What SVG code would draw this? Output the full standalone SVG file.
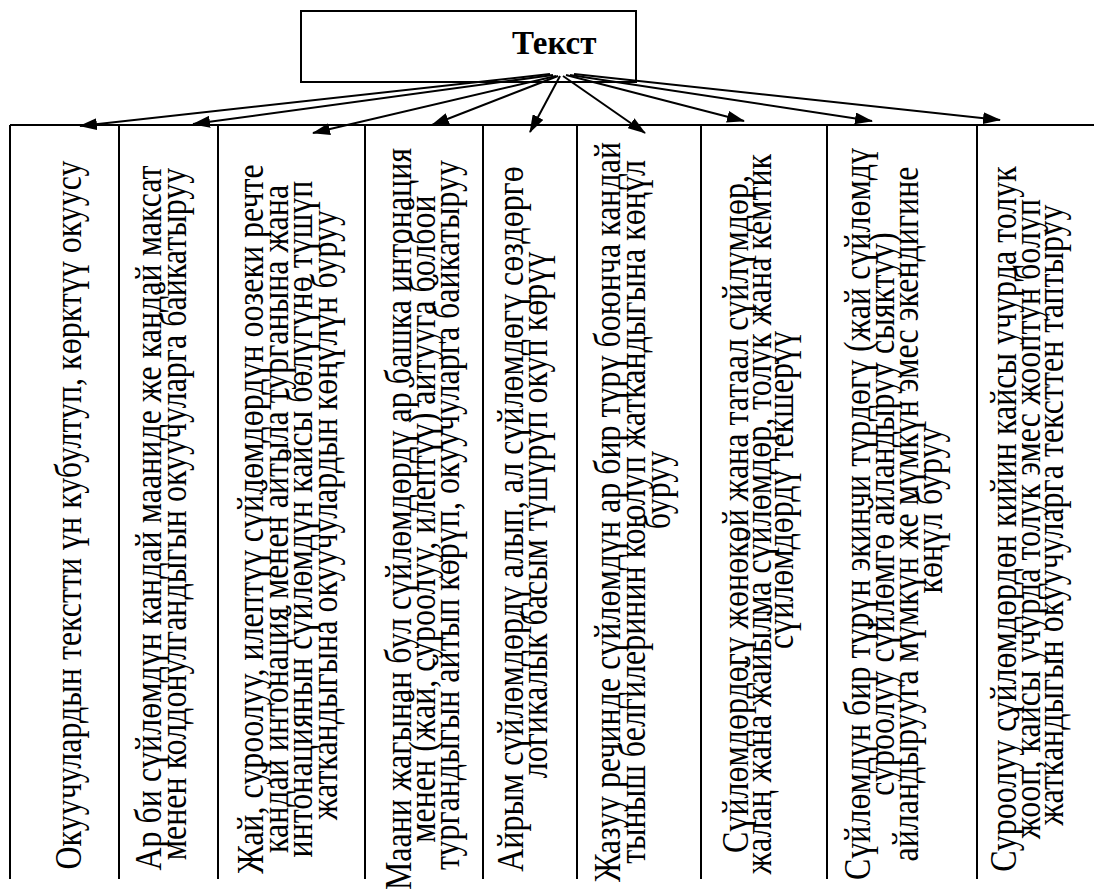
<svg xmlns="http://www.w3.org/2000/svg" width="1094" height="894" viewBox="0 0 1094 894">
  <defs>
    <style>
      .frame { fill: none; stroke: #000; stroke-width: 2; }
      .title { font-family: "Liberation Serif", "Times New Roman", serif; font-size: 33px; font-weight: bold; fill: #000; }
      .cell { font-family: "Liberation Serif", "Times New Roman", serif; font-size: 32px; fill: #000; text-anchor: middle; }
      .conn line { stroke: #000; stroke-width: 2; marker-end: url(#ah); }
    </style>
    <marker id="ah" markerUnits="userSpaceOnUse" markerWidth="19" markerHeight="12" refX="17" refY="6" orient="auto">
      <path d="M0,0 L18,6 L0,12 Z" fill="#000"/>
    </marker>
  </defs>
  <rect width="1094" height="894" fill="#fff"/>

  <!-- root node -->
  <g id="node-root">
    <rect class="frame" x="301" y="11" width="335" height="71"/>
    <text class="title" x="512" y="54">Текст</text>
  </g>

  <!-- table header rule and column borders -->
  <g id="table-frame" class="frame">
    <line x1="10" y1="125" x2="1094" y2="125"/>
    <line x1="10" y1="125" x2="10" y2="879"/>
    <line x1="119" y1="125" x2="119" y2="879"/>
    <line x1="218" y1="125" x2="218" y2="879"/>
    <line x1="365" y1="125" x2="365" y2="879"/>
    <line x1="483" y1="125" x2="483" y2="879"/>
    <line x1="577" y1="125" x2="577" y2="879"/>
    <line x1="701" y1="125" x2="701" y2="879"/>
    <line x1="827" y1="125" x2="827" y2="879"/>
    <line x1="977" y1="125" x2="977" y2="879"/>
  </g>

  <!-- columns: text set vertically, reading bottom to top; glyphs drawn 1.2x tall -->
  <g id="col-1">
    <text class="cell" transform="translate(81,515) rotate(-90) scale(1,1.2)">Окуучулардын текстти үн кубултуп,  көрктүү окуусу</text>
  </g>
  <g id="col-2">
    <text class="cell" transform="translate(161,514) rotate(-90) scale(1,1.2)">
      <tspan x="0" y="0">Ар би сүйлөмдүн кандай мааниде же кандай максат</tspan>
      <tspan x="0" y="20.8">менен колдонулгандыгын окуучуларга байкатыруу</tspan>
    </text>
  </g>
  <g id="col-3">
    <text class="cell" transform="translate(263,515) rotate(-90) scale(1,1.2)">
      <tspan x="0" y="0">Жай, суроолуу, илептүү сүйлөмдөрдүн оозеки речте</tspan>
      <tspan x="0" y="20.6">кандай интонация менен айтыла турганына жана</tspan>
      <tspan x="0" y="41.2">интонациянын сүйлөмдүн кайсы бөлүгүнө түшүп</tspan>
      <tspan x="0" y="61.8">жаткандыгына окуучулардын көңүлүн буруу</tspan>
    </text>
  </g>
  <g id="col-4">
    <text class="cell" transform="translate(411,515) rotate(-90) scale(1,1.2)">
      <tspan x="0" y="0">Маани жагынан бул сүйлөмдөрдү ар башка интонация</tspan>
      <tspan x="0" y="20">менен (жай, суроолуу, илептүү) айтууга болбой</tspan>
      <tspan x="0" y="40">тургандыгын айтып көрүп, окуучуларга байкатыруу</tspan>
    </text>
  </g>
  <g id="col-5">
    <text class="cell" transform="translate(523,515) rotate(-90) scale(1,1.2)">
      <tspan x="0" y="0">Айрым сүйлөмдөрдү алып, ал сүйлөмдөгү сөздөргө</tspan>
      <tspan x="0" y="20">логикалык басым түшүрүп окуп көрүү</tspan>
    </text>
  </g>
  <g id="col-6">
    <text class="cell" transform="translate(620,508) rotate(-90) scale(1,1.2)">
      <tspan x="0" y="0">Жазуу речинде сүйлөмдүн ар бир түрү боюнча кандай</tspan>
      <tspan x="0" y="20.8">тыныш белгилеринин коюлуп жаткандыгына көңүл</tspan>
      <tspan x="18" y="41.6">буруу</tspan>
    </text>
  </g>
  <g id="col-7">
    <text class="cell" transform="translate(748,510) rotate(-90) scale(1,1.2)">
      <tspan x="0" y="0">Сүйлөмдөрдөгү жөнөкөй жана татаал сүйлүмдөр,</tspan>
      <tspan x="0" y="19">жалаң жана жайылма сүйлөмдөр, толук жана кемтик</tspan>
      <tspan x="20" y="37.5">сүйлөмдөрдү текшерүү</tspan>
    </text>
  </g>
  <g id="col-8">
    <text class="cell" transform="translate(870,510) rotate(-90) scale(1,1.2)">
      <tspan x="0" y="0">Сүйлөмдүн бир түрүн экинчи түрдөгү (жай сүйлөмдү</tspan>
      <tspan x="0" y="20">суроолуу сүйлөмгө айландыруу сыяктуу)</tspan>
      <tspan x="0" y="40">айландырууга мүмкүн же мүмкүн эмес экендигине</tspan>
      <tspan x="0" y="60">көңүл буруу</tspan>
    </text>
  </g>
  <g id="col-9">
    <text class="cell" transform="translate(1016,515) rotate(-90) scale(1,1.2)">
      <tspan x="0" y="0">Суроолуу сүйлөмдөрдөн кийин кайсы учурда толук</tspan>
      <tspan x="0" y="19.6">жооп, кайсы учурда толук эмес жооптун болуп</tspan>
      <tspan x="0" y="38.8">жаткандыгын окуучуларга тексттен таптыруу</tspan>
    </text>
  </g>

  <!-- connectors from the root node to every column -->
  <g id="connectors" class="conn">
    <line x1="550" y1="74" x2="80" y2="126"/>
    <line x1="553" y1="75" x2="193" y2="124"/>
    <line x1="556" y1="76" x2="313" y2="133"/>
    <line x1="558" y1="76" x2="432" y2="125"/>
    <line x1="560" y1="76" x2="530" y2="132"/>
    <line x1="563" y1="76" x2="645" y2="133"/>
    <line x1="566" y1="75" x2="744" y2="121"/>
    <line x1="570" y1="75" x2="872" y2="121"/>
    <line x1="574" y1="74" x2="1000" y2="120"/>
  </g>
</svg>
